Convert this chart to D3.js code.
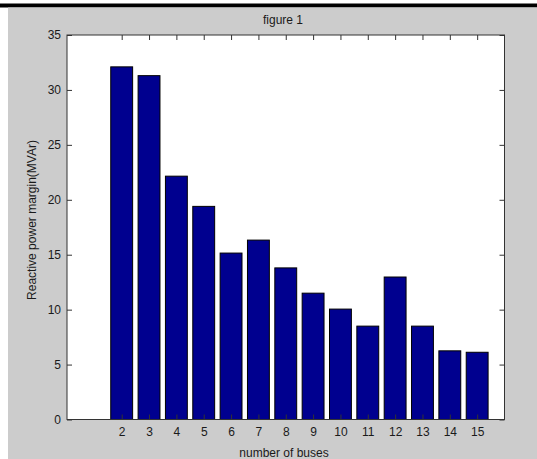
<!DOCTYPE html>
<html lang="en">
  <head>
    <meta charset="UTF-8" />
    <title>figure 1</title>
    <script src="https://cdn.jsdelivr.net/npm/d3@7"></script>
    <style>
      body {
        margin: 0;
        background: #fff;
      }
      text {
        font-family: "Liberation Sans", Arial, sans-serif;
        fill: #1a1a1a;
      }
    </style>
  </head>
  <body>
    <svg id="fig" width="537" height="459"></svg>
    <script>
      // bus numbers and reactive power margin (MVAr)
      let buses = [2, 3, 4, 5, 6, 7, 8, 9, 10, 11, 12, 13, 14, 15];
      let margin_mvar = [32.1, 31.3, 22.15, 19.4, 15.15, 16.33, 13.8, 11.5, 10.05, 8.5, 12.97, 8.5, 6.25, 6.12];
      let yTicks = [0, 5, 10, 15, 20, 25, 30, 35];

      let svg = d3.select("#fig");

      // window frame: white strip, black bar, gray figure background
      svg.append("rect").attr("x", 0).attr("y", 0).attr("width", 537).attr("height", 459).attr("fill", "#fff");
      svg.append("rect").attr("x", 0).attr("y", 3.5).attr("width", 537).attr("height", 4).attr("fill", "#000");
      svg.append("rect").attr("x", 8).attr("y", 7.5).attr("width", 529).attr("height", 452).attr("fill", "#cccccc");

      let axL = 67, axR = 504.5, axT = 35, axB = 419.5;

      let x = d3.scaleLinear().domain([0, 16]).range([axL, axR]);
      let y = d3.scaleLinear().domain([0, 35]).range([axB, axT]);
      let bw = x(0.8) - x(0);

      // axes box
      svg.append("rect")
        .attr("x", axL).attr("y", axT)
        .attr("width", axR - axL).attr("height", axB - axT)
        .attr("fill", "#fff");

      // bars
      svg.append("g")
        .selectAll("rect")
        .data(buses)
        .join("rect")
        .attr("x", (d) => x(d) - bw / 2)
        .attr("y", (d, i) => y(margin_mvar[i]))
        .attr("width", bw)
        .attr("height", (d, i) => y(0) - y(margin_mvar[i]))
        .attr("fill", "#00008f")
        .attr("stroke", "#000")
        .attr("stroke-width", 1);

      // ticks pointing inward on all four sides (matlab box style)
      let tl = 5;
      let bottomAxis = d3.axisBottom(x).tickValues(buses).tickSizeInner(-tl).tickSizeOuter(0).tickPadding(8);
      let gx = svg.append("g").attr("transform", `translate(0,${axB})`).call(bottomAxis);
      let topAxis = d3.axisTop(x).tickValues(buses).tickSizeInner(-tl).tickSizeOuter(0).tickFormat("");
      let gxt = svg.append("g").attr("transform", `translate(0,${axT})`).call(topAxis);
      let leftAxis = d3.axisLeft(y).tickValues(yTicks).tickSizeInner(-tl).tickSizeOuter(0).tickPadding(6);
      let gy = svg.append("g").attr("transform", `translate(${axL},0)`).call(leftAxis);
      let rightAxis = d3.axisRight(y).tickValues(yTicks).tickSizeInner(-tl).tickSizeOuter(0).tickFormat("");
      let gyr = svg.append("g").attr("transform", `translate(${axR},0)`).call(rightAxis);

      [gx, gxt, gy, gyr].forEach(function (g) {
        g.select(".domain").remove();
        g.selectAll("line").attr("stroke", "#333");
        g.selectAll("text").attr("font-size", "12px").attr("fill", "#1a1a1a");
      });
      gx.selectAll("text").attr("dy", "0.71em");

      // box outline
      svg.append("rect")
        .attr("x", axL).attr("y", axT)
        .attr("width", axR - axL).attr("height", axB - axT)
        .attr("fill", "none")
        .attr("stroke", "#333")
        .attr("stroke-width", 1);

      // labels
      svg.append("text")
        .attr("x", 283).attr("y", 24)
        .attr("text-anchor", "middle")
        .style("font-size", "12px")
        .text("figure 1");
      svg.append("text")
        .attr("x", 284).attr("y", 457)
        .attr("text-anchor", "middle")
        .style("font-size", "12px")
        .text("number of buses");
      svg.append("text")
        .attr("transform", "translate(36,220) rotate(-90)")
        .attr("text-anchor", "middle")
        .style("font-size", "12px")
        .text("Reactive power margin(MVAr)");
    </script>
  </body>
</html>
